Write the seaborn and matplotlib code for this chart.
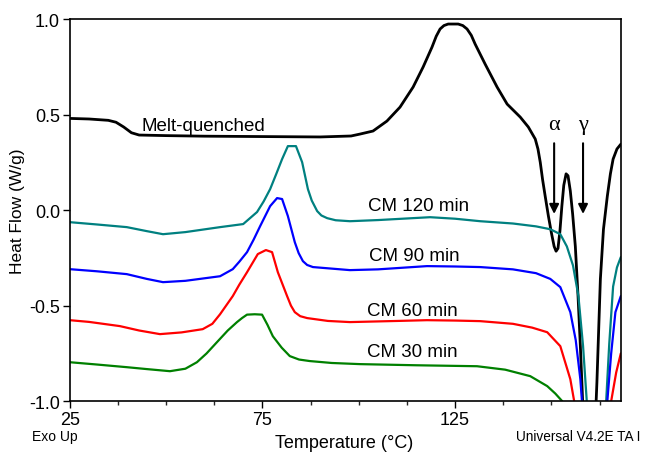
import matplotlib
matplotlib.use("Agg")
import matplotlib.pyplot as plt
import seaborn as sns
import numpy as np

# Curvas DSC (temperatura em °C, fluxo em W/g)
mq_temp = [25, 30, 35, 37, 39, 41, 43, 50, 60, 75, 90, 98, 100.3, 103.7, 107.3, 110.7,
           114.1, 116.7, 119, 120.1, 121.1, 122.1, 123.2, 125.8, 127, 128.1, 129.2,
           130.2, 132.8, 135.9, 138.5, 141.9, 144, 145.8, 146.5, 147.1, 147.7, 148.4,
           149.2, 150, 150.7, 151.2, 151.7, 152.2, 152.7, 153.2, 153.8, 154.3, 154.9,
           155.5, 156.2, 156.9, 157.5, 158.2, 159, 160, 161, 161.8, 162.3, 162.7, 163.5,
           164.5, 165.3, 166, 167, 168]
mq_flow = [0.48, 0.477, 0.47, 0.46, 0.435, 0.405, 0.393, 0.39, 0.387, 0.385, 0.383,
           0.388, 0.398, 0.414, 0.466, 0.539, 0.644, 0.749, 0.853, 0.91, 0.948, 0.966,
           0.974, 0.974, 0.966, 0.948, 0.915, 0.869, 0.764, 0.644, 0.555, 0.487, 0.435,
           0.372, 0.32, 0.25, 0.16, 0.07, -0.03, -0.12, -0.19, -0.215, -0.2, -0.11, 0.02,
           0.13, 0.19, 0.18, 0.1, -0.02, -0.19, -0.45, -0.71, -1.05, -1.4, -1.6, -1.3,
           -0.9, -0.6, -0.36, -0.1, 0.073, 0.19, 0.267, 0.32, 0.345]

cm120_temp = [25, 32, 39.8, 45, 49.2, 55, 64, 70, 73.6, 75.3, 77, 78.6, 80.1, 81.6, 83.7,
              85.3, 86.8, 87.8, 89.2, 90.3, 91.8, 94, 97.7, 105, 118.5, 125, 131.5, 140,
              146, 149.7, 152.3, 154, 155.6, 157, 158.2, 159.5, 161, 162.5, 164.2, 165,
              166, 167, 168]
cm120_flow = [-0.063, -0.075, -0.089, -0.11, -0.126, -0.115, -0.089, -0.073, -0.01, 0.045,
              0.11, 0.19, 0.267, 0.335, 0.335, 0.251, 0.11, 0.05, -0.005, -0.028, -0.042,
              -0.053, -0.058, -0.052, -0.037, -0.045, -0.058, -0.07, -0.085, -0.1, -0.126,
              -0.19, -0.29, -0.45, -0.71, -1.1, -1.5, -1.3, -1.0, -0.7, -0.4, -0.3, -0.246]

cm90_temp = [25, 32, 39.8, 45, 49.2, 55, 64, 67.3, 69, 71, 72.7, 74.4, 77, 78.8, 80.1,
             81.6, 83.4, 84.4, 85.5, 86.6, 88.1, 97.7, 105, 117.7, 125, 131.5, 140, 146,
             149.7, 152.3, 154.9, 156.3, 157.5, 159, 161, 163, 164.5, 165.5, 166.6, 168]
cm90_flow = [-0.309, -0.32, -0.335, -0.36, -0.377, -0.37, -0.346, -0.309, -0.27, -0.22,
             -0.155, -0.084, 0.021, 0.063, 0.058, -0.031, -0.168, -0.225, -0.267, -0.287,
             -0.298, -0.314, -0.31, -0.293, -0.295, -0.298, -0.31, -0.33, -0.36, -0.403,
             -0.534, -0.68, -0.885, -1.3, -1.5, -1.2, -1.0, -0.75, -0.534, -0.45]

cm60_temp = [25, 30, 38, 43, 48.4, 54, 59.5, 62, 64, 67.3, 69, 71, 73.8, 75.9, 77.5, 79,
             81.4, 82.4, 83.4, 84.8, 86.6, 92, 97.7, 110, 117.7, 125, 131.5, 140, 145,
             148.9, 152.3, 154.9, 155.9, 158, 161, 164, 165.5, 166.8, 168]
cm60_flow = [-0.576, -0.585, -0.607, -0.63, -0.649, -0.64, -0.623, -0.595, -0.545, -0.45,
             -0.39, -0.325, -0.23, -0.209, -0.22, -0.325, -0.45, -0.5, -0.534, -0.555,
             -0.565, -0.58, -0.586, -0.58, -0.576, -0.578, -0.581, -0.595, -0.615,
             -0.639, -0.712, -0.885, -1.0, -1.3, -1.5, -1.3, -1.0, -0.85, -0.75]

cm30_temp = [25, 32, 39.8, 45, 51, 55, 58, 60.5, 63.2, 66, 68.4, 69.7, 71, 73, 74.9,
             76.3, 77.7, 80, 82.1, 84.5, 87.3, 93, 100.3, 115, 130.7, 138, 144.5, 148.9,
             151, 152.8, 156, 160, 164, 168]
cm30_flow = [-0.796, -0.808, -0.822, -0.832, -0.843, -0.83, -0.796, -0.75, -0.691, -0.63,
             -0.586, -0.565, -0.547, -0.545, -0.547, -0.6, -0.66, -0.72, -0.764, -0.782,
             -0.79, -0.8, -0.806, -0.812, -0.817, -0.835, -0.869, -0.921, -0.96, -1.0,
             -1.15, -1.4, -1.6, -1.7]

sns.set_theme(style="ticks")
plt.rcParams['font.family'] = ['Liberation Sans', 'DejaVu Sans']
plt.rcParams['text.color'] = 'black'
plt.rcParams['axes.labelcolor'] = 'black'

fig = plt.figure(figsize=(6.46, 4.56), dpi=100)
ax = fig.add_axes([0.108, 0.118, 0.853, 0.838])

curvas = [
    (mq_temp, mq_flow, "black", 2.0),
    (cm120_temp, cm120_flow, "#008080", 1.6),
    (cm90_temp, cm90_flow, "#0000ff", 1.6),
    (cm60_temp, cm60_flow, "#ff0000", 1.6),
    (cm30_temp, cm30_flow, "#008000", 1.6),
]
for t, f, cor, lw in curvas:
    sns.lineplot(x=t, y=f, ax=ax, color=cor, linewidth=lw, sort=False)

ax.set_xlim(25, 168)
ax.set_ylim(-1.0, 1.0)
ax.set_xticks([25, 75, 125])
ax.set_xticks(np.arange(25, 168, 12.5), minor=True)
ax.set_yticks([-1.0, -0.5, 0.0, 0.5, 1.0])
ax.set_yticklabels(["-1.0", "-0.5", "0.0", "0.5", "1.0"])
ax.tick_params(axis="both", which="major", direction="out", length=5, width=1,
               labelsize=13, colors="black", pad=2)
ax.tick_params(axis="x", which="minor", direction="out", length=3, width=1)
for s in ax.spines.values():
    s.set_color("black")
    s.set_linewidth(1.2)

ax.set_ylabel("Heat Flow (W/g)", fontsize=12.5, labelpad=3)
ax.set_xlabel("")
fig.text(0.532, 0.028, "Temperature (°C)", ha="center", va="center", fontsize=13)
fig.text(0.05, 0.042, "Exo Up", ha="left", va="center", fontsize=10)
fig.text(0.991, 0.042, "Universal V4.2E TA I", ha="right", va="center", fontsize=9.8)

# Rótulos das curvas
ax.text(59.8, 0.445, "Melt-quenched", ha="center", va="center", fontsize=13.5)
ax.text(115.4, 0.026, "CM 120 min", ha="center", va="center", fontsize=13.5)
ax.text(114.4, -0.24, "CM 90 min", ha="center", va="center", fontsize=13.5)
ax.text(113.8, -0.524, "CM 60 min", ha="center", va="center", fontsize=13.5)
ax.text(113.8, -0.738, "CM 30 min", ha="center", va="center", fontsize=13.5)

# Setas das fases cristalinas
ax.text(150.7, 0.45, "α", ha="center", va="center", fontsize=16,
        family=["Liberation Serif", "DejaVu Serif"])
ax.text(158.2, 0.45, "γ", ha="center", va="center", fontsize=16,
        family=["Liberation Serif", "DejaVu Serif"])
for xa in [150.7, 158.2]:
    ax.annotate("", xy=(xa, -0.02), xytext=(xa, 0.35),
                arrowprops=dict(arrowstyle="-|>", color="black", lw=1.5,
                                mutation_scale=14, shrinkA=0, shrinkB=0))

fig.savefig("out.png", dpi=100)
